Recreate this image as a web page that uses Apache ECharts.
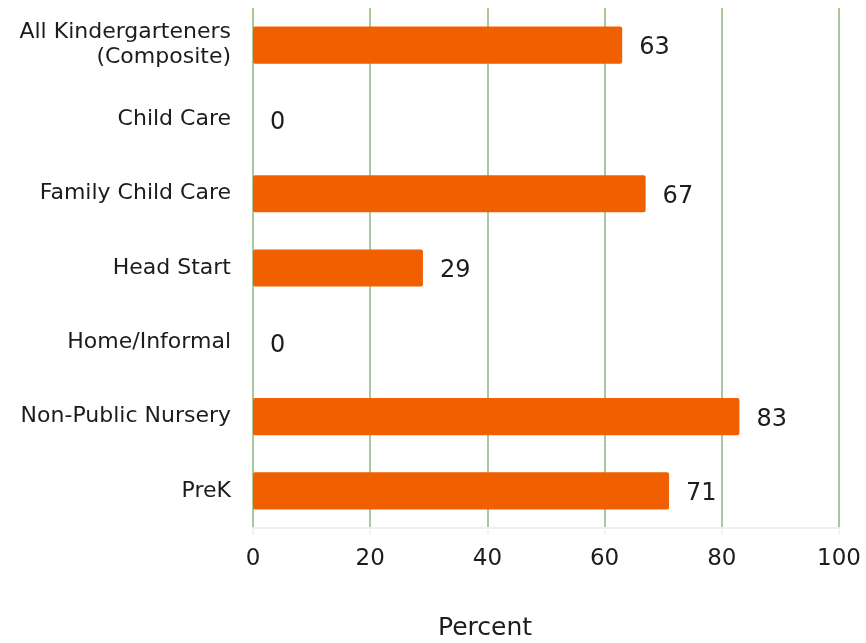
<!DOCTYPE html>
<html>
<head>
<meta charset="utf-8">
<script src="https://cdn.jsdelivr.net/npm/echarts@6/dist/echarts.min.js"></script>
<style>
  html, body { margin: 0; padding: 0; background: #ffffff; }
  #chart { width: 866px; height: 643px; }
</style>
</head>
<body>
<div id="chart"></div>
<script>
// Settings, top to bottom as drawn
const categories = [
  'All Kindergarteners\n(Composite)',
  'Child Care',
  'Family Child Care',
  'Head Start',
  'Home/Informal',
  'Non-Public Nursery',
  'PreK'
];
const percentValues = [63, 0, 67, 29, 0, 83, 71];
const xTicks = [0, 20, 40, 60, 80, 100];
const axisTitle = 'Percent';

const FONT = '"DejaVu Sans", Verdana, sans-serif';
const TEXT = '#1c1c1c';

const chart = echarts.init(document.getElementById('chart'), null, { renderer: 'canvas' });
chart.setOption({
  animation: false,
  backgroundColor: '#ffffff',
  // Axis title sits below the tick labels, a little left of the plot's centre
  title: {
    text: axisTitle,
    left: 485,
    top: 616,
    textAlign: 'center',
    padding: 0,
    textStyle: { fontFamily: FONT, fontSize: 25, fontWeight: 'normal', color: TEXT }
  },
  grid: {
    left: 253, right: 27, top: 8, bottom: 115,
    containLabel: false,
    outerBoundsMode: 'none'
  },
  xAxis: {
    type: 'value',
    min: xTicks[0],
    max: xTicks[xTicks.length - 1],
    interval: 20,
    axisLine: { show: true, lineStyle: { color: '#f0f0f0', width: 2 } },
    axisTick: { show: true, length: 7, lineStyle: { color: '#f3f3f3', width: 2 } },
    axisLabel: { fontFamily: FONT, fontSize: 23, color: TEXT, margin: 20 },
    splitLine: { show: true, lineStyle: { color: '#a8c79b', width: 2 } }
  },
  yAxis: {
    type: 'category',
    data: categories,
    inverse: true,
    axisLine: { show: false },
    axisTick: { show: false },
    axisLabel: {
      fontFamily: FONT, fontSize: 22, color: TEXT, margin: 22,
      lineHeight: 25, align: 'right'
    },
    splitLine: { show: false }
  },
  series: [{
    type: 'bar',
    data: percentValues,
    barWidth: '50%',
    itemStyle: { color: '#f06000', borderRadius: 2 },
    label: {
      show: true,
      position: 'right',
      distance: 17,
      offset: [0, 3],
      fontFamily: FONT,
      fontSize: 24,
      color: TEXT
    }
  }]
});
</script>
</body>
</html>
